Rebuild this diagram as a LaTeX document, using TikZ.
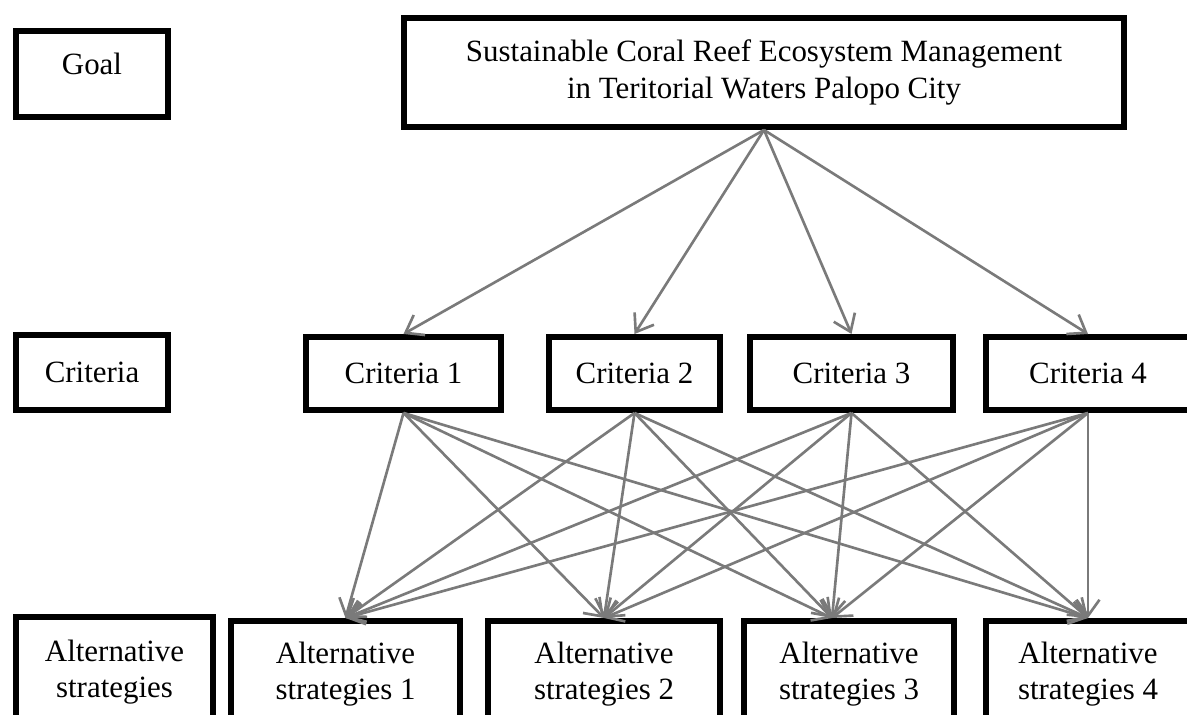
\documentclass[tikz,border=0pt]{standalone}
\usepackage{fontspec}
\setmainfont{Liberation Serif}
\usetikzlibrary{arrows.meta}

\begin{document}
\begin{tikzpicture}[
    box/.style={draw, line width=3.4pt, align=center, inner sep=0pt, minimum height=1.46cm},
    arr/.style={-{Straight Barb[length=0.32cm,width=0.46cm]}, draw=black!52, line width=1.5pt}
  ]
    \useasboundingbox (0,0) rectangle (23.74,14.3);
    \clip (0,0) rectangle (23.74,14.3);
    \fontsize{17.6}{20.6}\selectfont
    % level names
    \node [box, minimum width=3.04cm, minimum height=1.72cm, text depth=0.4cm] (goal) at (1.84,12.82) {Goal};
    \node [box, minimum width=3.04cm, minimum height=1.5cm] (crit) at (1.84,6.85) {Criteria};
    \node [box, minimum width=3.94cm, minimum height=2.2cm] (alts) at (2.29,0.86) {Alternative\\strategies};
    % goal
    \node [box, minimum width=14.4cm, minimum height=2.18cm] (top) at (15.28,12.85) {Sustainable Coral Reef Ecosystem Management\\in Teritorial Waters Palopo City};
    % criteria
    \node [box, minimum width=3.9cm] (c1) at (8.07,6.83) {Criteria 1};
    \node [box, minimum width=3.42cm] (c2) at (12.69,6.83) {Criteria 2};
    \node [box, minimum width=4.06cm] (c3) at (17.03,6.83) {Criteria 3};
    \node [box, minimum width=4.08cm] (c4) at (21.76,6.83) {Criteria 4};
    % alternatives
    \node [box, minimum width=4.58cm, minimum height=2.12cm] (a1) at (6.91,0.82) {Alternative\\strategies 1};
    \node [box, minimum width=4.64cm, minimum height=2.12cm] (a2) at (12.08,0.82) {Alternative\\strategies 2};
    \node [box, minimum width=4.2cm, minimum height=2.12cm] (a3) at (16.98,0.82) {Alternative\\strategies 3};
    \node [box, minimum width=4.08cm, minimum height=2.12cm] (a4) at (21.76,0.82) {Alternative\\strategies 4};
    % goal to criteria
    \draw [arr] (top.south) -- (c1.north);
    \draw [arr] (top.south) -- (c2.north);
    \draw [arr] (top.south) -- (c3.north);
    \draw [arr] (top.south) -- (c4.north);
    % criteria to alternatives
    \draw [arr] (c1.south) -- (a1.north);
    \draw [arr] (c1.south) -- (a2.north);
    \draw [arr] (c1.south) -- ([xshift=-0.34cm]a3.north);
    \draw [arr] (c1.south) -- (a4.north);
    \draw [arr] (c2.south) -- (a1.north);
    \draw [arr] (c2.south) -- (a2.north);
    \draw [arr] (c2.south) -- ([xshift=-0.34cm]a3.north);
    \draw [arr] (c2.south) -- (a4.north);
    \draw [arr] (c3.south) -- (a1.north);
    \draw [arr] (c3.south) -- (a2.north);
    \draw [arr] (c3.south) -- ([xshift=-0.34cm]a3.north);
    \draw [arr] (c3.south) -- (a4.north);
    \draw [arr] (c4.south) -- (a1.north);
    \draw [arr] (c4.south) -- (a2.north);
    \draw [arr] (c4.south) -- ([xshift=-0.34cm]a3.north);
    \draw [arr] (c4.south) -- (a4.north);
  \end{tikzpicture}
\end{document}
